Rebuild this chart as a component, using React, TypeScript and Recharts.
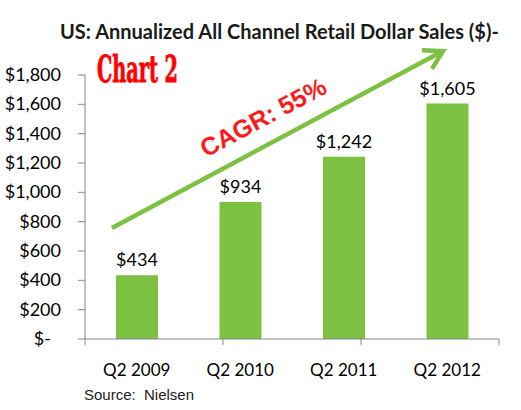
import React from 'react';
import { BarChart, Bar, XAxis, YAxis, LabelList } from 'recharts';

const quarters = ['Q2 2009', 'Q2 2010', 'Q2 2011', 'Q2 2012'];
const sales = [434, 934, 1242, 1605];
const yTicks = [0, 200, 400, 600, 800, 1000, 1200, 1400, 1600, 1800];

const title = 'US: Annualized All Channel Retail Dollar Sales ($)-';
const chartTag = 'Chart 2';
const cagrText = 'CAGR: 55%';
const source = 'Source:\u00a0 Nielsen';

const data = quarters.map((quarter, i) => ({ quarter, sales: sales[i] }));
const edgeTicks = [...quarters.map((_, i) => i), quarters.length];

const GREEN = '#7cc142';
const AXIS = '#868686';
const FONT = 'Lato, "Open Sans", sans-serif';

const money = (v: number) => (v === 0 ? '$-' : `$${v.toLocaleString('en-US')}`);

const YTick = (props: any) => {
  const { x, y, payload } = props;
  const zero = payload.value === 0;
  return (
    <text x={zero ? x - 10 : x} y={y} dy={6} textAnchor="end" fontSize={18} fontFamily={FONT} fill="#000">
      {money(payload.value)}
    </text>
  );
};

// arrow drawn over the plot, from lower left to upper right
const arrowFrom = { x: 112, y: 228 };
const arrowTo = { x: 443, y: 51 };

const Arrow = () => {
  const dx = arrowTo.x - arrowFrom.x;
  const dy = arrowTo.y - arrowFrom.y;
  const back = Math.atan2(-dy, -dx);
  const len = 21;
  const a1 = back + Math.PI / 6;
  const a2 = back - Math.PI / 6;
  const p1 = `${arrowTo.x + len * Math.cos(a1)},${arrowTo.y + len * Math.sin(a1)}`;
  const p2 = `${arrowTo.x + len * Math.cos(a2)},${arrowTo.y + len * Math.sin(a2)}`;
  const angle = (Math.atan2(dy, dx) * 180) / Math.PI;
  return (
    <g>
      <line x1={arrowFrom.x} y1={arrowFrom.y} x2={arrowTo.x} y2={arrowTo.y} stroke={GREEN} strokeWidth={4.5} />
      <polyline points={`${p1} ${arrowTo.x},${arrowTo.y} ${p2}`} fill="none" stroke={GREEN} strokeWidth={4.5} />
      <text
        x={263}
        y={117}
        textAnchor="middle"
        dominantBaseline="central"
        transform={`rotate(${angle} 263 117)`}
        fontSize={25}
        fontWeight="bold"
        fontFamily='"Liberation Sans", Arial, sans-serif'
        fill="#ff1a1a"
      >
        {cagrText}
      </text>
    </g>
  );
};

export default function App() {
  return (
    <div style={{ position: 'absolute', left: 0, top: 0, width: 521, height: 410, background: '#fff' }}>
      <BarChart width={521} height={410} data={data} margin={{ top: 75, right: 22, bottom: 26, left: 9 }}>
        <XAxis
          xAxisId="axisEdge"
          type="number"
          domain={[0, quarters.length]}
          ticks={edgeTicks}
          interval={0}
          tick={() => <g />}
          tickSize={6}
          height={6}
          axisLine={{ stroke: AXIS }}
          tickLine={{ stroke: AXIS }}
        />
        <XAxis
          xAxisId="catLabels"
          dataKey="quarter"
          axisLine={false}
          tickLine={false}
          height={39}
          tickMargin={13}
          tick={{ fontSize: 17, fontFamily: FONT, fill: '#000' }}
        />
        <YAxis
          domain={[0, 1800]}
          ticks={yTicks}
          interval={0}
          width={76}
          tickSize={7}
          axisLine={{ stroke: AXIS }}
          tickLine={{ stroke: AXIS }}
          tick={<YTick />}
          tickMargin={17}
        />
        <Bar dataKey="sales" xAxisId="catLabels" fill={GREEN} barSize={42} isAnimationActive={false}>
          <LabelList
            dataKey="sales"
            position="top"
            offset={9}
            formatter={(v: any) => money(Number(v))}
            style={{ fontSize: 18, fontFamily: FONT, fill: '#000' }}
          />
        </Bar>
      </BarChart>
      <svg width={521} height={410} style={{ position: 'absolute', left: 0, top: 0, pointerEvents: 'none' }}>
        <text x={60} y={39} fontSize={20} fontWeight="bold" fontFamily={FONT} fill="#1a1a1a">
          {title}
        </text>
        <text
          x={97}
          y={82}
          fontSize={37}
          fontWeight="bold"
          fontFamily='"DejaVu Serif Condensed", "DejaVu Serif", serif'
          fill="#ff0000"
          stroke="#ff0000"
          strokeWidth={0.8}
          textLength={81}
          lengthAdjust="spacingAndGlyphs"
        >
          {chartTag}
        </text>
        <Arrow />
        <text x={84} y={400} fontSize={15} fontFamily='"Liberation Sans", Arial, sans-serif' fill="#222">
          {source}
        </text>
      </svg>
    </div>
  );
}
